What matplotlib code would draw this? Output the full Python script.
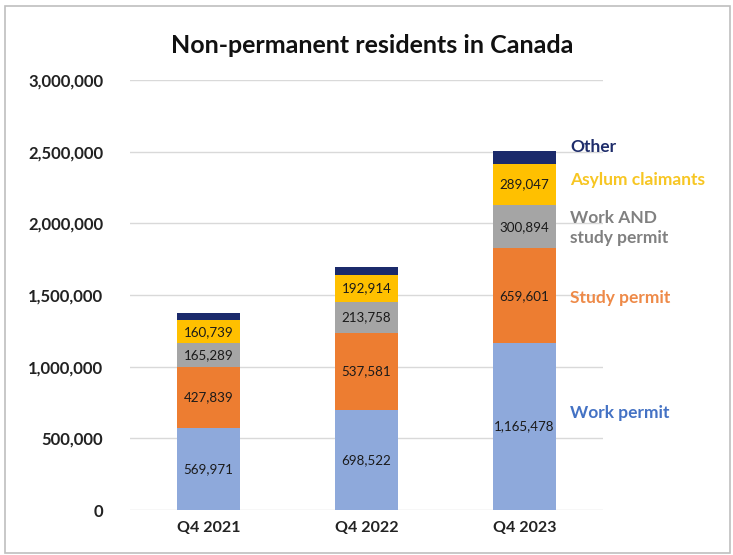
import matplotlib
matplotlib.use("Agg")
import matplotlib.pyplot as plt
from matplotlib.patches import Rectangle
from matplotlib.ticker import FuncFormatter

plt.rcParams['font.family'] = ['Lato', 'DejaVu Sans']

# Non-permanent residents by permit type
quarters = ["Q4 2021", "Q4 2022", "Q4 2023"]
work_permit = [569971, 698522, 1165478]
study_permit = [427839, 537581, 659601]
work_and_study = [165289, 213758, 300894]
asylum_claimants = [160739, 192914, 289047]
other = [50000, 50000, 90000]

series = [
    ("Work permit", work_permit, "#8EA9DB", "#4472C4"),
    ("Study permit", study_permit, "#ED7D31", "#EE8A48"),
    ("Work AND\nstudy permit", work_and_study, "#A5A5A5", "#808080"),
    ("Asylum claimants", asylum_claimants, "#FFC000", "#F7C623"),
    ("Other", other, "#1B2A6B", "#1F2D6B"),
]
show_values = [True, True, True, True, False]

fig = plt.figure(figsize=(7.33, 5.55), dpi=100)
ax = fig.add_axes([0.177, 0.081, 0.646, 0.775])

x = list(range(len(quarters)))
bottom = [0] * len(quarters)
for (name, vals, color, _), show in zip(series, show_values):
    ax.bar(x, vals, width=0.4, bottom=bottom, color=color, zorder=2)
    if show:
        for xi, b, v in zip(x, bottom, vals):
            ax.text(xi, b + v / 2, f"{v:,}", ha="center", va="center",
                    fontsize=9.6, color="#1a1a1a", zorder=3)
    bottom = [b + v for b, v in zip(bottom, vals)]

# Series names to the right of the last bar
label_y = [677000, 1478000, 1970000, 2300000, 2533000]
for (name, vals, _, tcolor), ly in zip(series, label_y):
    ax.text(2.29, ly, name, ha="left", va="center", fontsize=12.5,
            fontweight="bold", color=tcolor, linespacing=1.3, zorder=3)

ax.set_xlim(-0.5, 2.5)
ax.set_ylim(0, 3000000)
ax.set_yticks(range(0, 3000001, 500000))
ax.yaxis.set_major_formatter(FuncFormatter(lambda v, p: f"{int(v):,}"))
ax.set_xticks(x)
ax.set_xticklabels(quarters)
ax.tick_params(axis="y", length=0, labelsize=12, pad=19)
ax.tick_params(axis="x", length=0, labelsize=11.5, pad=8)
for lbl in ax.get_xticklabels() + ax.get_yticklabels():
    lbl.set_fontweight("bold")
    lbl.set_color("#222222")
ax.grid(axis="y", color="#D9D9D9", linewidth=1, zorder=0)
for s in ax.spines.values():
    s.set_visible(False)

fig.text(0.508, 0.918, "Non-permanent residents in Canada", ha="center",
         va="center", fontsize=18, fontweight="bold", color="#111111")

# Frame around the chart
fig.patches.append(Rectangle((0.007, 0.004), 0.989, 0.986, transform=fig.transFigure,
                             fill=False, edgecolor="#BFBFBF", linewidth=1.2))

fig.savefig("out.png", dpi=100)
